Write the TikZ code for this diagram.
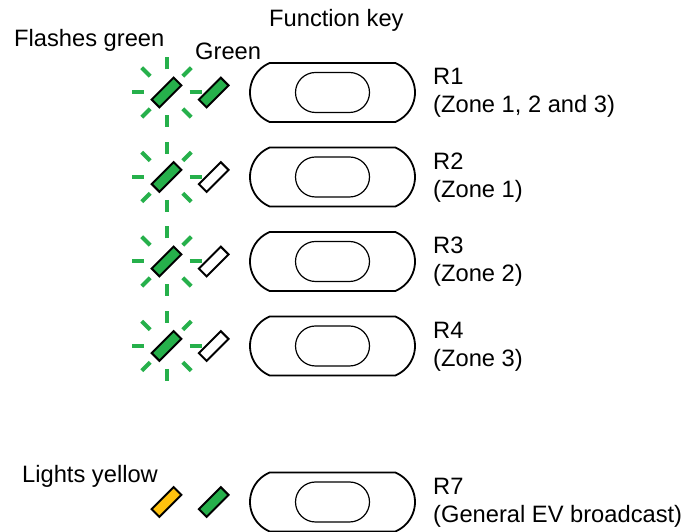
\documentclass[tikz,border=0pt]{standalone}
\usepackage{fontspec}
\setmainfont{Liberation Sans}
\usetikzlibrary{shapes.misc}
\definecolor{ledgreen}{RGB}{38,176,75}
\definecolor{ledyellow}{RGB}{255,194,14}

\begin{document}
\begin{tikzpicture}[
  x=1pt, y=1pt,
  font=\fontsize{23.7}{28}\selectfont,
  lbl/.style={anchor=base west, inner sep=0pt, align=left},
  fkey/.style={draw, rounded rectangle, rounded rectangle arc length=135, minimum width=165pt, minimum height=59pt, line width=1.8pt, inner sep=0pt},
  fbtn/.style={draw, rounded rectangle, minimum width=74pt, minimum height=40pt, line width=1.2pt, inner sep=0pt},
  led/.style={draw, rotate=45, minimum width=31pt, minimum height=11pt, inner sep=0pt, line width=2pt, fill=#1},
  ray/.style={draw=ledgreen, line width=4pt},
]
\useasboundingbox (0,0) rectangle (696,532);

% headings
\node[lbl] (hkey) at (269,505) {Function key};
\node[lbl] (hflash) at (14,485) {Flashes green};
\node[lbl] (hgreen) at (195,472) {Green};
\node[lbl] (hyellow) at (22,49) {Lights yellow};

% zone keys R1-R4
\foreach \n/\yy/\col/\zone in {1/439.5/ledgreen/{Zone 1, 2 and 3}, 2/355/white/{Zone 1}, 3/270.5/white/{Zone 2}, 4/186/white/{Zone 3}}{
  \node[led=ledgreen] (fl\n) at (166.5,\yy) {};
  \foreach \a in {0,45,...,315}
    \draw[ray] (fl\n.center) ++(\a:23) -- ++(\a:12);
  \node[led=\col] (st\n) at (213.7,\yy) {};
  \node[fkey] (key\n) at (332.5,\yy) {};
  \node[fbtn] (btn\n) at (key\n.center) {};
  \node[lbl] (lab\n) at (433,\yy-20.5) {R\n\\(\zone)};
}

% general broadcast R7
\node[led=ledyellow] (fl7) at (166.5,30) {};
\node[led=ledgreen] (st7) at (213.7,30) {};
\node[fkey] (key7) at (332.5,30) {};
\node[fbtn] (btn7) at (key7.center) {};
\node[lbl] (lab7) at (433,9.5) {R7\\(General EV broadcast)};
\end{tikzpicture}
\end{document}
